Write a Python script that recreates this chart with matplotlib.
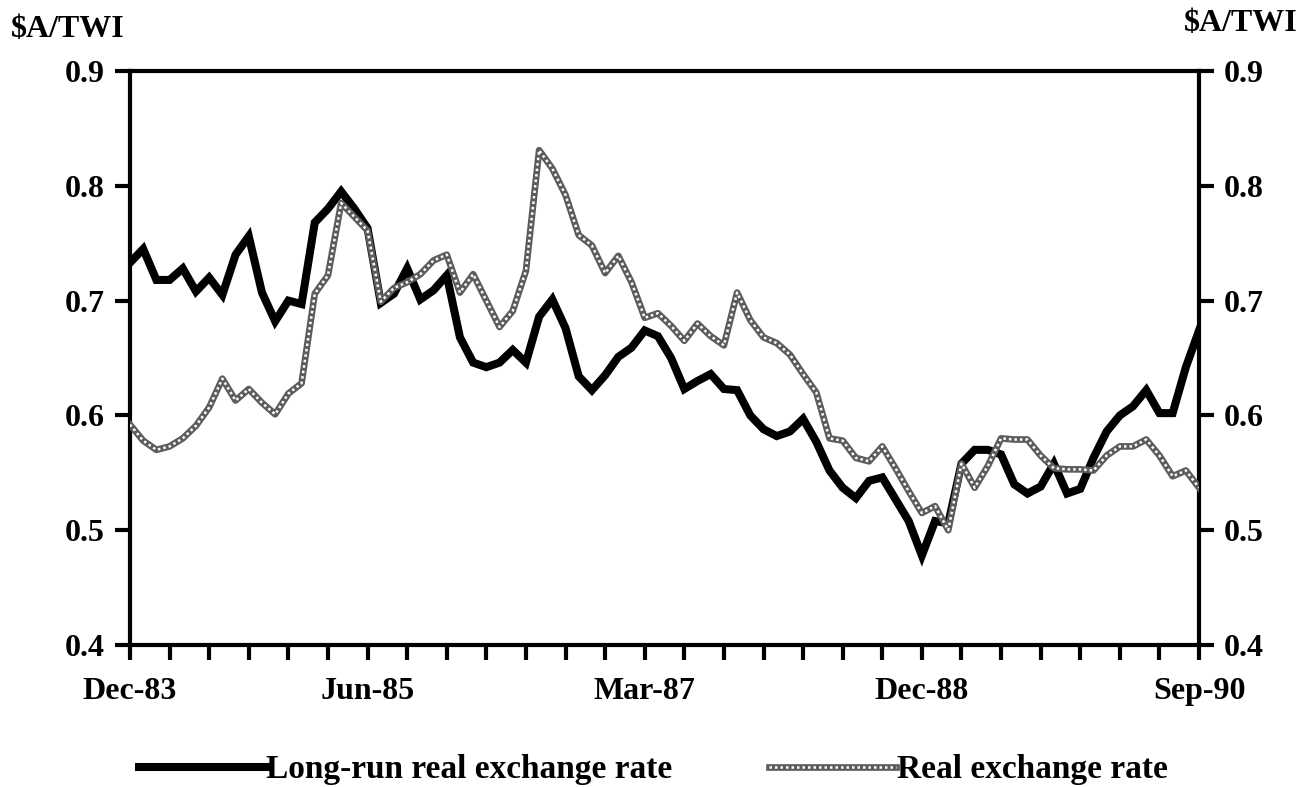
import matplotlib.pyplot as plt
from matplotlib.legend_handler import HandlerTuple

# monthly data, Dec-83 .. Sep-90 ($A/TWI)
months = list(range(82))

long_run = [0.733, 0.745, 0.718, 0.718, 0.728, 0.708, 0.720, 0.705, 0.740, 0.756,
            0.707, 0.682, 0.700, 0.697, 0.768, 0.780, 0.795, 0.780, 0.763, 0.698,
            0.706, 0.728, 0.701, 0.709, 0.722, 0.668, 0.646, 0.642, 0.646, 0.657,
            0.646, 0.686, 0.701, 0.676, 0.634, 0.622, 0.635, 0.651, 0.659, 0.674,
            0.669, 0.650, 0.623, 0.630, 0.636, 0.623, 0.622, 0.600, 0.588, 0.582,
            0.586, 0.597, 0.577, 0.552, 0.537, 0.528, 0.543, 0.546, 0.527, 0.508,
            0.478, 0.508, 0.506, 0.558, 0.570, 0.570, 0.566, 0.540, 0.532, 0.538,
            0.558, 0.532, 0.536, 0.563, 0.586, 0.600, 0.608, 0.622, 0.602, 0.602,
            0.642, 0.674]

real = [0.592, 0.578, 0.570, 0.573, 0.580, 0.591, 0.607, 0.632, 0.613, 0.623,
        0.611, 0.601, 0.619, 0.628, 0.706, 0.722, 0.785, 0.773, 0.761, 0.699,
        0.711, 0.716, 0.723, 0.735, 0.740, 0.707, 0.723, 0.700, 0.677, 0.691,
        0.726, 0.831, 0.815, 0.792, 0.757, 0.748, 0.724, 0.739, 0.716, 0.685,
        0.689, 0.678, 0.665, 0.680, 0.669, 0.661, 0.707, 0.683, 0.668, 0.663,
        0.653, 0.636, 0.620, 0.580, 0.578, 0.563, 0.560, 0.573, 0.554, 0.534,
        0.515, 0.521, 0.500, 0.558, 0.537, 0.556, 0.580, 0.579, 0.579, 0.565,
        0.554, 0.553, 0.553, 0.552, 0.565, 0.573, 0.573, 0.579, 0.565, 0.547,
        0.552, 0.537]

tick_pos = list(range(0, 82, 3))
tick_lab = {0: 'Dec-83', 18: 'Jun-85', 39: 'Mar-87', 60: 'Dec-88', 81: 'Sep-90'}
y_ticks = [0.4, 0.5, 0.6, 0.7, 0.8, 0.9]

plt.rcParams['font.family'] = ['Liberation Serif', 'DejaVu Serif']
plt.rcParams['font.weight'] = 'bold'

fig = plt.figure(figsize=(13.09, 7.87), dpi=100)
ax = fig.add_axes([0.0993, 0.1804, 0.8167, 0.7294])

l1, = ax.plot(months, long_run, color='black', lw=5.8, solid_joinstyle='miter', zorder=3)
g1, = ax.plot(months, real, color='#5c5c5c', lw=4.8, zorder=4)
g2, = ax.plot(months, real, color='white', lw=1.8, ls=(0, (1, 1.2)), zorder=5)

ax.set_xlim(0, 81)
ax.set_ylim(0.4, 0.9)
ax.set_xticks(tick_pos)
ax.set_xticklabels([tick_lab.get(t, '') for t in tick_pos])
ax.set_yticks(y_ticks)
ax.set_yticklabels(['%.1f' % v for v in y_ticks])

for s in ax.spines.values():
    s.set_linewidth(3)
ax.tick_params(axis='x', direction='out', length=11, width=3, pad=12, labelsize=23)
ax.tick_params(axis='y', direction='out', length=11, width=3, pad=7, labelsize=23,
               left=True, right=True, labelleft=True, labelright=True)

fig.text(0.008, 0.963, '$A/TWI', fontsize=23, fontweight='bold', ha='left', va='center')
fig.text(0.991, 0.970, '$A/TWI', fontsize=23, fontweight='bold', ha='right', va='center')

fig.legend([l1, (g1, g2)], ['Long-run real exchange rate', 'Real exchange rate'],
           handler_map={tuple: HandlerTuple(ndivide=1, pad=0)},
           loc='center', bbox_to_anchor=(0.499, 0.022), ncol=2, frameon=False,
           fontsize=24, handlelength=3.8, handletextpad=0.02, columnspacing=2.9)

plt.savefig('out.png', dpi=100)
